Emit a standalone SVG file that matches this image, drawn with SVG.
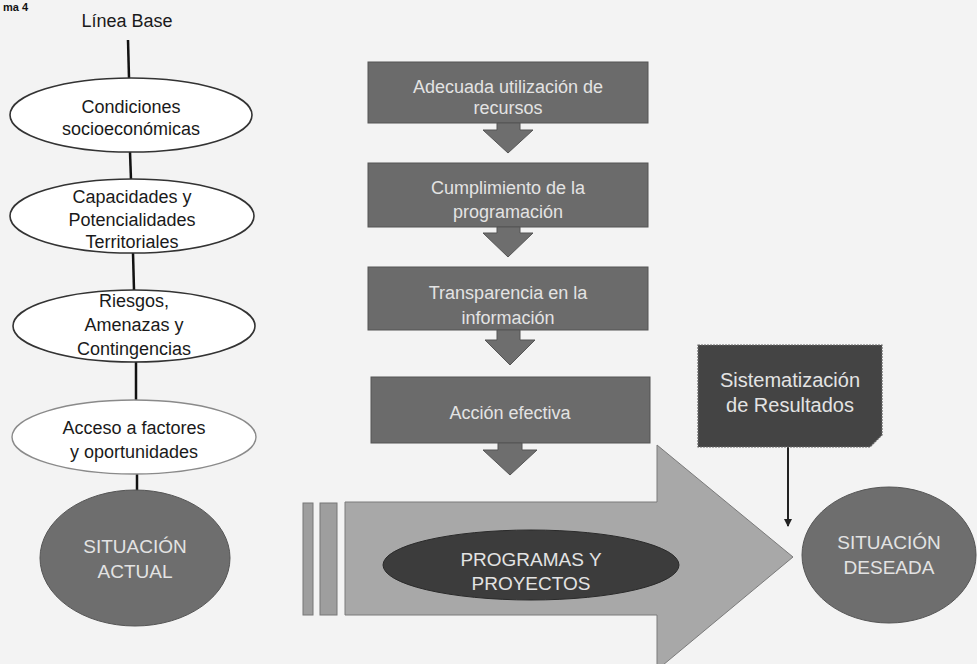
<svg xmlns="http://www.w3.org/2000/svg" width="977" height="664" viewBox="0 0 977 664">
<defs>
<style>
text{font-family:"Liberation Sans",Arial,sans-serif;text-anchor:middle;}
.dk{fill:#1a1a1a;font-size:18px;}
.lt{fill:#e3e3e3;font-size:18px;}
.big{fill:#e3e3e3;font-size:19px;}
.oval{fill:#ffffff;stroke:#333;stroke-width:1.6;}
.box{fill:#6b6b6b;stroke:#555;stroke-width:1;}
.darr{fill:#6e6e6e;stroke:#555;stroke-width:1;}
.link{stroke:#111;stroke-width:2.5;fill:none;}
</style>
<marker id="ah" markerWidth="8" markerHeight="8" refX="7" refY="4" orient="auto" markerUnits="userSpaceOnUse">
<path d="M0,0 L8,4 L0,8 Z" fill="#222"/>
</marker>
</defs>
<rect x="0" y="0" width="977" height="664" fill="#f3f3f3"/>
<text x="3" y="11" style="font-size:11px;font-weight:bold;fill:#111;text-anchor:start">ma 4</text>

<g id="connectors">
<line class="link" x1="128" y1="40" x2="129" y2="78"/>
<line class="link" x1="130" y1="152" x2="131" y2="180"/>
<line class="link" x1="133" y1="253" x2="134" y2="290"/>
<line class="link" x1="136" y1="362" x2="136" y2="400"/>
<line class="link" x1="137" y1="474" x2="137" y2="491"/>
<line x1="788" y1="447" x2="788" y2="526" stroke="#222" stroke-width="2" marker-end="url(#ah)"/>
</g>

<g id="linea-base"><text class="dk" x="127" y="27">Línea Base</text></g>

<g id="n-condiciones">
<ellipse class="oval" cx="131" cy="115" rx="121" ry="37"/>
<text class="dk" x="131" y="113">Condiciones</text>
<text class="dk" x="131" y="135">socioeconómicas</text>
</g>
<g id="n-capacidades">
<ellipse class="oval" cx="132" cy="216" rx="122" ry="37"/>
<text class="dk" x="132" y="203">Capacidades y</text>
<text class="dk" x="132" y="226">Potencialidades</text>
<text class="dk" x="132" y="248">Territoriales</text>
</g>
<g id="n-riesgos">
<ellipse class="oval" cx="134" cy="326" rx="121" ry="36"/>
<text class="dk" x="134" y="307">Riesgos,</text>
<text class="dk" x="134" y="331">Amenazas y</text>
<text class="dk" x="134" y="355">Contingencias</text>
</g>
<g id="n-acceso">
<ellipse cx="134" cy="437" rx="122" ry="37" fill="#ffffff" stroke="#8a8a8a" stroke-width="1.4"/>
<text class="dk" x="134" y="434">Acceso a factores</text>
<text class="dk" x="134" y="458">y  oportunidades</text>
</g>
<g id="n-actual">
<ellipse cx="135" cy="558" rx="95" ry="68" fill="#6e6e6e" stroke="#555" stroke-width="1"/>
<text class="big" x="135" y="553">SITUACIÓN</text>
<text class="big" x="135" y="578">ACTUAL</text>
</g>

<g id="n-adecuada">
<rect class="box" x="368" y="62" width="280" height="61"/>
<text class="lt" x="508" y="93">Adecuada utilización de</text>
<text class="lt" x="508" y="114">recursos</text>
<path class="darr" d="M497,123 L520,123 L520,130 L533,130 L508,153 L483,130 L497,130 Z"/>
</g>
<g id="n-cumplimiento">
<rect class="box" x="368" y="163" width="280" height="64"/>
<text class="lt" x="508" y="194">Cumplimiento de la</text>
<text class="lt" x="508" y="218">programación</text>
<path class="darr" d="M497,227 L520,227 L520,233 L533,233 L508,257 L483,233 L497,233 Z"/>
</g>
<g id="n-transparencia">
<rect class="box" x="368" y="267" width="280" height="63"/>
<text class="lt" x="508" y="299">Transparencia en la</text>
<text class="lt" x="508" y="324">información</text>
<path class="darr" d="M497,330 L520,330 L520,340 L535,340 L510,365 L485,340 L497,340 Z"/>
</g>
<g id="n-accion">
<rect class="box" x="371" y="377" width="279" height="66"/>
<text class="lt" x="510" y="419">Acción efectiva</text>
<path class="darr" d="M498,443 L522,443 L522,450 L537,450 L510,475 L483,450 L498,450 Z"/>
</g>

<g id="n-bigarrow">
<rect x="303" y="503" width="10" height="112" fill="#9e9e9e" stroke="#777" stroke-width="1"/>
<rect x="320" y="503" width="17" height="112" fill="#9e9e9e" stroke="#777" stroke-width="1"/>
<path d="M345,502 L657,502 L657,445 L793,557 L657,670 L657,615 L345,615 Z" fill="#a8a8a8" stroke="#7a7a7a" stroke-width="1"/>
</g>
<g id="n-programas">
<ellipse cx="531" cy="565" rx="148" ry="35" fill="#3c3c3c" stroke="#2a2a2a" stroke-width="1"/>
<text class="lt" x="531" y="566" style="font-size:19px">PROGRAMAS Y</text>
<text class="lt" x="531" y="590" style="font-size:19px">PROYECTOS</text>
</g>

<g id="n-sistematizacion">
<path d="M698,345 L882,345 L882,435 L870,447 L698,447 Z" fill="#444444" stroke="#666" stroke-width="1.2" stroke-dasharray="2 1"/>
<text x="790" y="387" style="fill:#e3e3e3;font-size:20px">Sistematización</text>
<text x="790" y="412" style="fill:#e3e3e3;font-size:20px">de Resultados</text>
</g>
<g id="n-deseada">
<ellipse cx="889" cy="555" rx="87" ry="68" fill="#6e6e6e" stroke="#555" stroke-width="1"/>
<text class="big" x="889" y="549">SITUACIÓN</text>
<text class="big" x="889" y="574">DESEADA</text>
</g>
</svg>
